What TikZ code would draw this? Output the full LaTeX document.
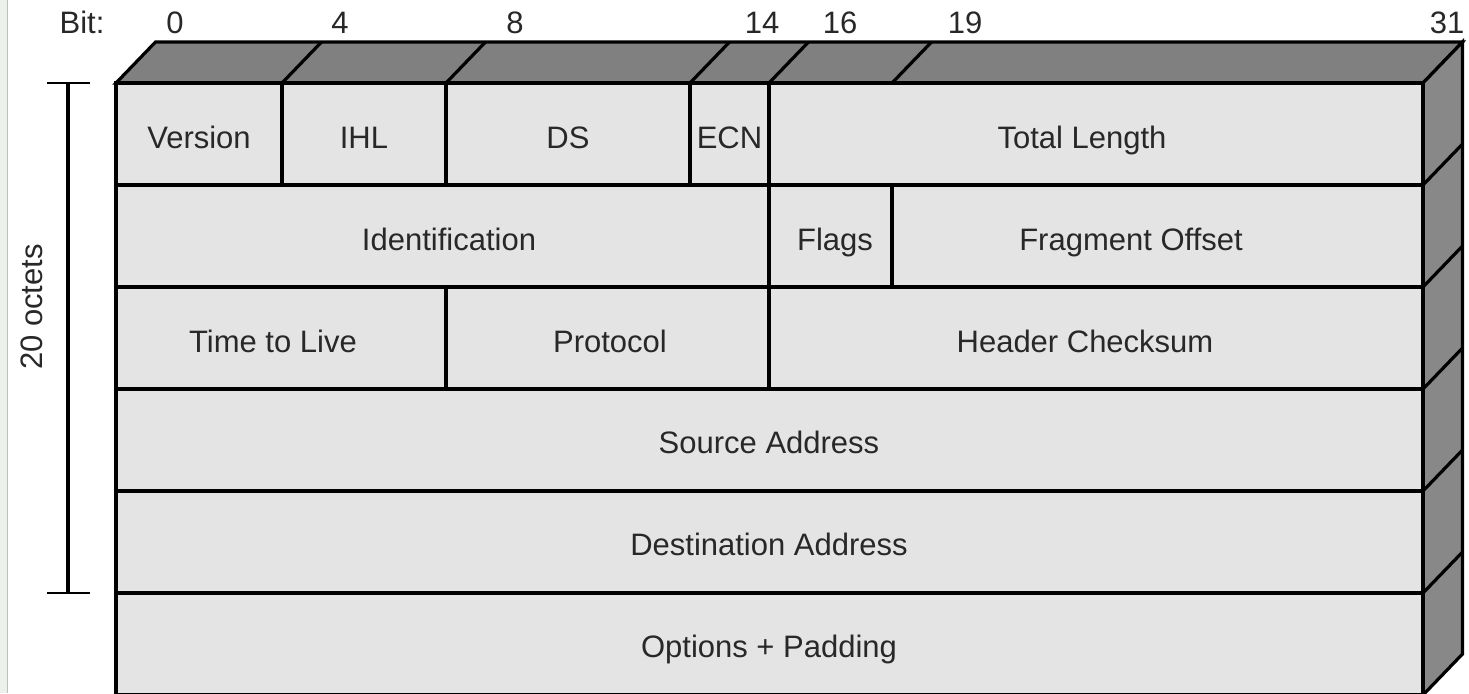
\documentclass[tikz,border=0pt]{standalone}
\usepackage{fontspec}
\setmainfont{Liberation Sans}
\definecolor{facefront}{RGB}{228,228,228}
\definecolor{facetop}{RGB}{128,128,128}
\definecolor{faceside}{RGB}{136,136,136}
\definecolor{inktext}{RGB}{40,40,40}
\definecolor{margin}{RGB}{236,241,236}
\begin{document}
\begin{tikzpicture}[x=0.5pt,y=-0.5pt,
    edge/.style={line width=1.6pt,black,line join=miter},
    lbl/.style={inner sep=0pt,anchor=base,text=inktext,font=\fontsize{15.5}{18}\selectfont},
    tick/.style={line width=1.1pt,black}]
  \useasboundingbox (0,0) rectangle (1469,693);
  \clip (0,0) rectangle (1469,693);
  \fill[white] (0,0) rectangle (1469,693);
  % page margin strip
  \fill[margin] (0,0) rectangle (7,693);
  \draw[black!25,line width=0.6pt] (7.5,0) -- (7.5,693);

  % depth of the block: (39.5,-41)
  % top face
  \filldraw[edge,fill=facetop] (116,83) -- (155.5,42) -- (1462.5,42) -- (1423,83) -- cycle;
  % right face
  \filldraw[edge,fill=faceside] (1423,83) -- (1462.5,42) -- (1462.5,654) -- (1423,695) -- cycle;
  % front face
  \filldraw[edge,fill=facefront] (116,83) rectangle (1423,695);

  % field boundaries carried over the top face
  \foreach \bx in {282,446,690,769,892}
    \draw[edge] (\bx,83) -- ++(39.5,-41);
  % row boundaries on the front and right faces
  \foreach \ry in {185,287,389,491,593} {
    \draw[edge] (116,\ry) -- (1423,\ry);
    \draw[edge] (1423,\ry) -- ++(39.5,-41);
  }
  % field dividers, row 1
  \foreach \bx in {282,446,690,769}
    \draw[edge] (\bx,83) -- (\bx,185);
  % row 2
  \foreach \bx in {769,892}
    \draw[edge] (\bx,185) -- (\bx,287);
  % row 3
  \foreach \bx in {446,769}
    \draw[edge] (\bx,287) -- (\bx,389);

  % bit ruler
  \node[lbl] (bitlbl) at (82,33) {Bit:};
  \node[lbl] (b0)  at (175,33) {0};
  \node[lbl] (b4)  at (340,33) {4};
  \node[lbl] (b8)  at (515,33) {8};
  \node[lbl] (b14) at (762,33) {14};
  \node[lbl] (b16) at (840,33) {16};
  \node[lbl] (b19) at (965,33) {19};
  \node[lbl] (b31) at (1447,33) {31};

  % header fields
  \node[lbl] (version)  at (199,148) {Version};
  \node[lbl] (ihl)      at (364,148) {IHL};
  \node[lbl] (ds)       at (568,148) {DS};
  \node[lbl] (ecn)      at (729.5,148) {ECN};
  \node[lbl] (totallen) at (1082,148) {Total Length};
  \node[lbl] (ident)    at (449,250) {Identification};
  \node[lbl] (flags)    at (835,250) {Flags};
  \node[lbl] (fragoff)  at (1131,250) {Fragment Offset};
  \node[lbl] (ttl)      at (273,352) {Time to Live};
  \node[lbl] (proto)    at (610,352) {Protocol};
  \node[lbl] (hcksum)   at (1085,352) {Header Checksum};
  \node[lbl] (srcaddr)  at (769,453) {Source Address};
  \node[lbl] (dstaddr)  at (769,555) {Destination Address};
  \node[lbl] (options)  at (769,657) {Options + Padding};

  % header length bar
  \coordinate (barTop) at (68,83);
  \coordinate (barBot) at (68,593);
  \draw[line width=1.7pt] (barTop) -- (barBot);
  \draw[tick] ([xshift=-10.5pt]barTop) -- ([xshift=11pt]barTop);
  \draw[tick] ([xshift=-10.5pt]barBot) -- ([xshift=11pt]barBot);
  \node[lbl,rotate=90,anchor=base] (octets) at (42,307) {20 octets};
\end{tikzpicture}
\end{document}
